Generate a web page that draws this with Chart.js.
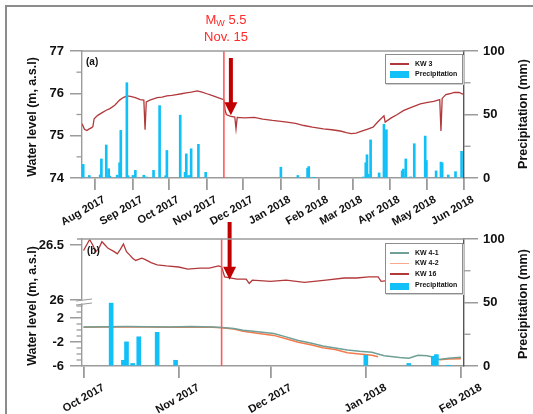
<!DOCTYPE html>
<html lang="en">
  <head>
    <meta charset="UTF-8" />
    <title>Water level and precipitation - KW wells</title>
    <script src="https://cdn.jsdelivr.net/npm/chart.js"></script>
    <style>
      body { margin: 0; background: #fff; }
      #page {
        position: relative; width: 533px; height: 414px; overflow: hidden;
        font-family: "Liberation Sans", Arial, sans-serif; color: #111;
      }
      #frame {
        position: absolute; left: 5px; top: 5px; width: 700px; height: 600px;
        border-left: 2px solid #8c8c8c; border-top: 2px solid #8c8c8c;
      }
      canvas { position: absolute; left: 0; }
      #topChart { top: 0; }
      #bottomChart { top: 215px; }
      .ytitle {
        position: absolute; font-weight: bold; font-size: 12.5px; white-space: nowrap;
        transform: translate(-50%, -50%) rotate(-90deg);
      }
      .panel { position: absolute; font-weight: bold; font-size: 10px; }
      #quake {
        position: absolute; left: 226px; top: 12px; transform: translateX(-50%);
        color: #ff2a2a; font-size: 13px; line-height: 16.5px; text-align: center; white-space: nowrap;
      }
      #quake sub { font-size: 9px; vertical-align: -2px; line-height: 0; }
      .legend {
        position: absolute; background: #fff; border: 1px solid #8d8d8d;
        box-shadow: 1px 1px 0 #cfcfcf;
      }
      .legend .line { position: absolute; left: 4px; width: 19px; height: 1.6px; }
      .legend .box { position: absolute; left: 4px; width: 19px; height: 7px; background: #12c0f8; }
      .legend .lab {
        position: absolute; left: 29px; font-size: 7px; font-weight: bold; line-height: 8px;
        transform: translateY(-50%); white-space: nowrap;
      }
    </style>
  </head>
  <body>
    <div id="page">
      <div id="frame"></div>
      <canvas id="topChart" width="533" height="228"></canvas>
      <canvas id="bottomChart" width="533" height="199"></canvas>

      <div id="quake">M<sub>W</sub> 5.5<br />Nov. 15</div>

      <div class="ytitle" style="left: 32px; top: 117px">Water level (m, a.s.l)</div>
      <div class="ytitle" style="left: 523px; top: 114px">Precipitation (mm)</div>
      <div class="ytitle" style="left: 32px; top: 306px">Water level (m, a.s.l)</div>
      <div class="ytitle" style="left: 523px; top: 304px">Precipitation (mm)</div>

      <div class="panel" style="left: 86px; top: 56px">(a)</div>
      <div class="panel" style="left: 87px; top: 245px">(b)</div>

      <div class="legend" style="left: 385px; top: 54px; width: 76px; height: 28px">
        <div class="line" style="top: 8px; background: #b2393b"></div>
        <div class="lab" style="top: 8.7px">KW 3</div>
        <div class="box" style="top: 16px"></div>
        <div class="lab" style="top: 19.3px">Precipitation</div>
      </div>

      <div class="legend" style="left: 385px; top: 243px; width: 76px; height: 49px">
        <div class="line" style="top: 8px; background: #6f9f96"></div>
        <div class="lab" style="top: 8.7px">KW 4-1</div>
        <div class="line" style="top: 18.5px; background: #f7a98c"></div>
        <div class="lab" style="top: 19.3px">KW 4-2</div>
        <div class="line" style="top: 29px; background: #b2393b"></div>
        <div class="lab" style="top: 29.7px">KW 16</div>
        <div class="box" style="top: 38.7px"></div>
        <div class="lab" style="top: 41.3px">Precipitation</div>
      </div>
    </div>

    <script>
      // ---- dados ----
      const quakeDate = "2017-11-15";

      const topMonthDates = [
        "2017-08-01", "2017-09-01", "2017-10-01", "2017-11-01", "2017-12-01", "2018-01-01",
        "2018-02-01", "2018-03-01", "2018-04-01", "2018-05-01", "2018-06-01",
      ];
      const topMonthLabels = [
        "Aug 2017", "Sep 2017", "Oct 2017", "Nov 2017", "Dec 2017", "Jan 2018",
        "Feb 2018", "Mar 2018", "Apr 2018", "May 2018", "Jun 2018",
      ];
      const bottomMonthDates = ["2017-10-01", "2017-11-01", "2017-12-01", "2018-01-01", "2018-02-01"];
      const bottomMonthLabels = ["Oct 2017", "Nov 2017", "Dec 2017", "Jan 2018", "Feb 2018"];

      // KW 3 (painel a)
      const kw3Dates = [
        "2017-07-21", "2017-07-22", "2017-07-23", "2017-07-25", "2017-07-27", "2017-07-29", "2017-07-30",
        "2017-07-31", "2017-08-03", "2017-08-07", "2017-08-10", "2017-08-13", "2017-08-17", "2017-08-21",
        "2017-08-24", "2017-08-27", "2017-08-30", "2017-09-03", "2017-09-07", "2017-09-10", "2017-09-11",
        "2017-09-12", "2017-09-15", "2017-09-18", "2017-09-21", "2017-09-25", "2017-09-29", "2017-10-03",
        "2017-10-07", "2017-10-11", "2017-10-15", "2017-10-19", "2017-10-24", "2017-10-28", "2017-11-01",
        "2017-11-05", "2017-11-09", "2017-11-13", "2017-11-15", "2017-11-16", "2017-11-17", "2017-11-20",
        "2017-11-24", "2017-11-25", "2017-11-26", "2017-12-02", "2017-12-10", "2017-12-17", "2017-12-25",
        "2018-01-01", "2018-01-06", "2018-01-13", "2018-01-20", "2018-01-27", "2018-02-05", "2018-02-12",
        "2018-02-19", "2018-02-24", "2018-02-28", "2018-03-04", "2018-03-08", "2018-03-13", "2018-03-18",
        "2018-03-22", "2018-03-27", "2018-03-28", "2018-04-02", "2018-04-07", "2018-04-12", "2018-04-18",
        "2018-04-26", "2018-05-01", "2018-05-07", "2018-05-12", "2018-05-13", "2018-05-14", "2018-05-17",
        "2018-05-20", "2018-05-24", "2018-05-28", "2018-06-01",
      ];
      const kw3Level = [
        75.28, 75.22, 75.15, 75.12, 75.16, 75.19, 75.22,
        75.40, 75.48, 75.55, 75.6, 75.64, 75.72, 75.84,
        75.9, 75.94, 75.93, 75.9, 75.85, 75.84, 75.14,
        75.8, 75.84, 75.87, 75.9, 75.91, 75.94, 75.95,
        75.97, 75.99, 76.01, 76.03, 76.06, 76.03, 75.99,
        75.95, 75.91, 75.87, 75.85, 75.6, 75.5, 75.46,
        75.44, 75.16, 75.43, 75.42, 75.43, 75.39, 75.36,
        75.34, 75.32, 75.29, 75.24, 75.2, 75.16, 75.14,
        75.11, 75.07, 75.05, 75.06, 75.1, 75.15, 75.2,
        75.33, 75.47, 75.32, 75.42, 75.5, 75.59, 75.66,
        75.75, 75.78, 75.81, 75.85, 75.11, 75.88, 75.97,
        75.99, 76.02, 76.02, 75.97,
      ];

      // Precipitação diária (mm), usada nos dois painéis
      const rainDates = [
        "2017-07-22", "2017-07-27", "2017-08-05", "2017-08-06", "2017-08-10", "2017-08-12", "2017-08-13",
        "2017-08-19", "2017-08-21", "2017-08-22", "2017-08-27", "2017-08-28", "2017-09-01", "2017-09-03",
        "2017-09-10", "2017-09-12", "2017-09-18", "2017-09-23", "2017-09-28", "2017-09-29", "2017-10-10",
        "2017-10-14", "2017-10-15", "2017-10-17", "2017-10-19", "2017-10-25", "2017-10-31", "2018-01-01",
        "2018-01-15", "2018-01-23", "2018-01-24", "2018-01-28", "2018-03-10", "2018-03-12", "2018-03-13",
        "2018-03-14", "2018-03-16", "2018-03-23", "2018-03-27", "2018-03-29", "2018-04-11", "2018-04-12",
        "2018-04-14", "2018-04-18", "2018-04-21", "2018-04-30", "2018-05-01", "2018-05-09", "2018-05-13",
        "2018-05-14", "2018-05-19", "2018-05-25", "2018-05-30",
      ];
      const rainMm = [
        10.7, 2, 2.4, 15, 26, 7.3, 1.5,
        2.2, 12, 37.5, 75, 1.8, 2, 6,
        2.2, 0.8, 6, 57, 1.8, 21.7, 49.5,
        4.5, 19, 2, 23, 26.5, 4.5, 8.5,
        2, 7.7, 9, 0.4, 0.8, 12, 18.3,
        3, 30, 4, 42.3, 38, 5.6, 7,
        15, 0.8, 27, 33, 13.8, 5.6, 12.5,
        12, 2.4, 5, 21,
      ];

      // KW 16 (painel b, eixo superior)
      const kw16Dates = [
        "2017-10-01", "2017-10-02", "2017-10-03", "2017-10-04", "2017-10-05", "2017-10-06", "2017-10-07",
        "2017-10-08", "2017-10-09", "2017-10-11", "2017-10-12", "2017-10-13", "2017-10-14", "2017-10-15",
        "2017-10-16", "2017-10-17", "2017-10-18", "2017-10-20", "2017-10-21", "2017-10-23", "2017-10-25",
        "2017-10-28", "2017-11-01", "2017-11-04", "2017-11-08", "2017-11-11", "2017-11-14", "2017-11-15",
        "2017-11-16", "2017-11-20", "2017-11-23", "2017-11-24", "2017-11-25", "2017-12-01", "2017-12-06",
        "2017-12-12", "2017-12-19", "2017-12-25", "2017-12-29", "2018-01-02", "2018-01-05", "2018-01-06",
        "2018-01-15", "2018-01-25", "2018-02-01", "2018-02-02",
      ];
      const kw16Level = [
        26.45, 26.5, 26.55, 26.5, 26.44, 26.47, 26.53,
        26.5, 26.47, 26.44, 26.42, 26.46, 26.51, 26.44,
        26.41, 26.38, 26.36, 26.38, 26.37, 26.34, 26.32,
        26.31, 26.3, 26.28, 26.29, 26.29, 26.31, 26.3,
        26.21, 26.19, 26.19, 26.15, 26.18, 26.17, 26.18,
        26.16, 26.18, 26.2, 26.2, 26.21, 26.21, 26.17,
        26.2, 26.24, 26.26, 26.26,
      ];

      // KW 4-1 e KW 4-2 (painel b, eixo inferior)
      const kw4Dates = [
        "2017-10-01", "2017-10-08", "2017-10-15", "2017-10-22", "2017-10-29", "2017-11-05", "2017-11-12",
        "2017-11-15", "2017-11-19", "2017-11-22", "2017-11-26", "2017-11-29", "2017-12-02", "2017-12-06",
        "2017-12-10", "2017-12-14", "2017-12-18", "2017-12-22", "2017-12-26", "2017-12-30", "2018-01-03",
        "2018-01-05", "2018-01-07", "2018-01-12", "2018-01-15", "2018-01-18", "2018-01-21", "2018-01-23",
        "2018-01-25", "2018-01-28", "2018-02-01",
      ];
      const kw41Level = [
        0.5, 0.55, 0.58, 0.55, 0.52, 0.58, 0.48,
        0.4, 0.25, -0.05, -0.25, -0.4, -0.6, -1.15,
        -1.75, -2.15, -2.65, -3.0, -3.35, -3.55, -3.7,
        -4.0, -4.3, -4.6, -4.7, -4.2, -4.3, -4.55,
        -4.9, -4.7, -4.55,
      ];
      const kw42Level = [
        0.45, 0.5, 0.52, 0.5, 0.46, 0.52, 0.44,
        0.36, 0.15, -0.2, -0.5, -0.7, -0.9, -1.45,
        -2.05, -2.45, -2.95, -3.25, -3.8, -4.0, -4.2,
        -4.45, null, null, null, null, null, null,
        -4.95, -4.85, -4.8,
      ];

      // ---- utilitários ----
      const origin = Date.UTC(2017, 0, 1);
      function day(s) {
        const [y, m, d] = s.split("-").map(Number);
        return (Date.UTC(y, m - 1, d) - origin) / 86400000;
      }
      const pts = (dates, vals) => dates.map((d, i) => ({ x: day(d), y: vals[i] }));

      const gray = "#9b9b9b";
      const red = "#b2393b";
      const cyan = "#12c0f8";

      Chart.defaults.font.family = '"Liberation Sans", Arial, sans-serif';
      Chart.defaults.color = "#111";

      // ticks menores, desenhados com as escalas
      const minorTicks = {
        id: "minorTicks",
        afterDraw(chart, args, opts) {
          const ctx = chart.ctx;
          ctx.save();
          ctx.strokeStyle = gray;
          ctx.lineWidth = 1.3;
          (opts.list || []).forEach((m) => {
            const s = chart.scales[m.axis];
            m.values.forEach((v) => {
              const y = s.getPixelForValue(v);
              const x0 = m.side === "left" ? s.right : s.left;
              const x1 = m.side === "left" ? x0 - m.len : x0 + m.len;
              ctx.beginPath();
              ctx.moveTo(x0, y);
              ctx.lineTo(x1, y);
              ctx.stroke();
            });
          });
          ctx.restore();
        },
      };

      // linha superior do quadro + quebra do eixo
      const plotFrame = {
        id: "plotFrame",
        afterDraw(chart, args, opts) {
          const { ctx, chartArea: a } = chart;
          ctx.save();
          ctx.strokeStyle = gray;
          ctx.lineWidth = 1.5;
          ctx.beginPath();
          ctx.moveTo(a.left - (opts.extendLeft || 0), a.top);
          ctx.lineTo(a.right, a.top);
          ctx.stroke();
          if (opts.breakAxis) {
            const y = chart.scales[opts.breakAxis].getPixelForValue(opts.breakAt);
            ctx.fillStyle = "#fff";
            ctx.fillRect(a.left - 6, y + 0.5, 14, 3);
            ctx.lineWidth = 1.1;
            ctx.beginPath();
            ctx.moveTo(a.left - 6, y + 1);
            ctx.lineTo(a.left + 10, y - 1);
            ctx.moveTo(a.left - 6, y + 5);
            ctx.lineTo(a.left + 10, y + 3);
            ctx.stroke();
          }
          ctx.restore();
        },
      };

      // sismo: linha vertical e seta
      const quakeMarker = {
        id: "quakeMarker",
        afterDatasetsDraw(chart, args, o) {
          const { ctx, chartArea: a } = chart;
          const x = chart.scales.x.getPixelForValue(day(quakeDate));
          ctx.save();
          ctx.strokeStyle = "#ff5a5a";
          ctx.lineWidth = 1.6;
          ctx.beginPath();
          ctx.moveTo(x, a.top);
          ctx.lineTo(x, a.bottom);
          ctx.stroke();

          const ax = x + o.arrowDx;
          const tip = chart.scales[o.arrowAxis].getPixelForValue(o.arrowTip);
          ctx.fillStyle = "#c00000";
          ctx.fillRect(ax - 2, o.arrowTop, 4, tip - 12 - o.arrowTop);
          ctx.beginPath();
          ctx.moveTo(ax - 6.5, tip - 13);
          ctx.lineTo(ax + 6.5, tip - 13);
          ctx.lineTo(ax, tip);
          ctx.closePath();
          ctx.fill();
          ctx.restore();
        },
      };

      function xAxis(min, max, dates, labels, height, labelOffset) {
        return {
          type: "linear",
          min: min,
          max: max,
          offset: false,
          afterBuildTicks: (s) => {
            s.ticks = dates.map((d) => ({ value: day(d) }));
          },
          afterFit: (s) => {
            s.height = height;
          },
          ticks: {
            autoSkip: false,
            minRotation: 30,
            maxRotation: 30,
            labelOffset: labelOffset,
            padding: 3,
            font: { size: 11, weight: "bold" },
            callback: (v, i) => labels[i],
          },
          grid: { drawOnChartArea: false, offset: false, tickLength: 12, color: gray, lineWidth: 1.8 },
          border: { color: gray, width: 1.5 },
        };
      }

      function yAxis(position, min, max, tickValues, width, tickLength, extra) {
        return Object.assign(
          {
            type: "linear",
            position: position,
            min: min,
            max: max,
            afterBuildTicks: (s) => {
              s.ticks = tickValues.map((v) => ({ value: v }));
            },
            afterFit: (s) => {
              s.width = width;
            },
            ticks: {
              padding: position === "left" ? 6 : 5,
              font: { size: 13, weight: "bold" },
              callback: (v) => String(v),
            },
            grid: { drawOnChartArea: false, tickLength: tickLength, color: gray, lineWidth: 1.5 },
            border: { color: position === "left" ? gray : "#555", width: 1.4 },
          },
          extra || {}
        );
      }

      // 1. Painel (a) ========================================
      new Chart(document.getElementById("topChart"), {
        type: "bar",
        data: {
          datasets: [
            {
              label: "Precipitation",
              data: pts(rainDates, rainMm),
              yAxisID: "yP",
              backgroundColor: cyan,
              barThickness: 2,
              order: 0,
            },
            {
              type: "line",
              label: "KW 3",
              data: pts(kw3Dates, kw3Level),
              yAxisID: "y",
              borderColor: red,
              borderWidth: 1.3,
              pointRadius: 0,
              order: 1,
            },
          ],
        },
        options: {
          responsive: false,
          animation: false,
          layout: { padding: { top: 51, left: 0, right: 0, bottom: 0 } },
          scales: {
            x: xAxis(day("2017-07-21"), day("2018-06-01"), topMonthDates, topMonthLabels, 50, 9),
            y: yAxis("left", 74, 77, [74, 75, 76, 77], 82, 12),
            yP: yAxis("right", 0, 100, [0, 50, 100], 69, 14),
          },
          plugins: {
            legend: { display: false },
            tooltip: { enabled: false },
            minorTicks: {
              list: [
                { axis: "y", values: [74.5, 75.5, 76.5], side: "left", len: 5.5 },
                { axis: "yP", values: [25, 75], side: "right", len: 6.5 },
              ],
            },
            plotFrame: {},
            quakeMarker: { arrowDx: 7, arrowAxis: "y", arrowTip: 75.48, arrowTop: 58 },
          },
        },
        plugins: [minorTicks, plotFrame, quakeMarker],
      });

      // 2. Painel (b) ========================================
      const bMin = day("2017-10-01") - 0.5;
      const bMax = day("2018-02-01") + 1;
      const rainB = pts(rainDates, rainMm).filter((p) => p.x >= bMin && p.x <= bMax);

      new Chart(document.getElementById("bottomChart"), {
        type: "bar",
        data: {
          datasets: [
            {
              label: "Precipitation",
              data: rainB,
              yAxisID: "yP",
              backgroundColor: cyan,
              barThickness: 4,
              order: 0,
            },
            {
              type: "line",
              label: "KW 4-1",
              data: pts(kw4Dates, kw41Level),
              yAxisID: "yL",
              borderColor: "#6f9f96",
              borderWidth: 1.5,
              pointRadius: 0,
              spanGaps: false,
              order: 1,
            },
            {
              type: "line",
              label: "KW 4-2",
              data: pts(kw4Dates, kw42Level),
              yAxisID: "yL",
              borderColor: "#f47a4c",
              borderWidth: 1.5,
              pointRadius: 0,
              spanGaps: false,
              order: 2,
            },
            {
              type: "line",
              label: "KW 16",
              data: pts(kw16Dates, kw16Level),
              yAxisID: "yU",
              borderColor: red,
              borderWidth: 1.3,
              pointRadius: 0,
              order: 3,
            },
          ],
        },
        options: {
          responsive: false,
          animation: false,
          layout: { padding: { top: 24, left: 0, right: 0, bottom: 0 } },
          scales: {
            x: xAxis(bMin, bMax, bottomMonthDates, bottomMonthLabels, 48, 20),
            yL: yAxis("left", -6, 4, [-6, -2, 2], 82, 12, { stack: "wl", stackWeight: 60 }),
            yU: yAxis("left", 25.945, 26.555, [26, 26.5], 82, 12, { stack: "wl", stackWeight: 67 }),
            yP: yAxis("right", 0, 100, [0, 50, 100], 69, 14),
          },
          plugins: {
            legend: { display: false },
            tooltip: { enabled: false },
            minorTicks: {
              list: [
                { axis: "yL", values: [4, 3, 1, 0, -1, -3, -4, -5], side: "left", len: 5.5 },
                { axis: "yP", values: [25, 75], side: "right", len: 6.5 },
              ],
            },
            plotFrame: { extendLeft: 5, breakAxis: "yU", breakAt: 26 },
            quakeMarker: { arrowDx: 8, arrowAxis: "yU", arrowTip: 26.185, arrowTop: 7 },
          },
        },
        plugins: [minorTicks, plotFrame, quakeMarker],
      });
    </script>
  </body>
</html>
